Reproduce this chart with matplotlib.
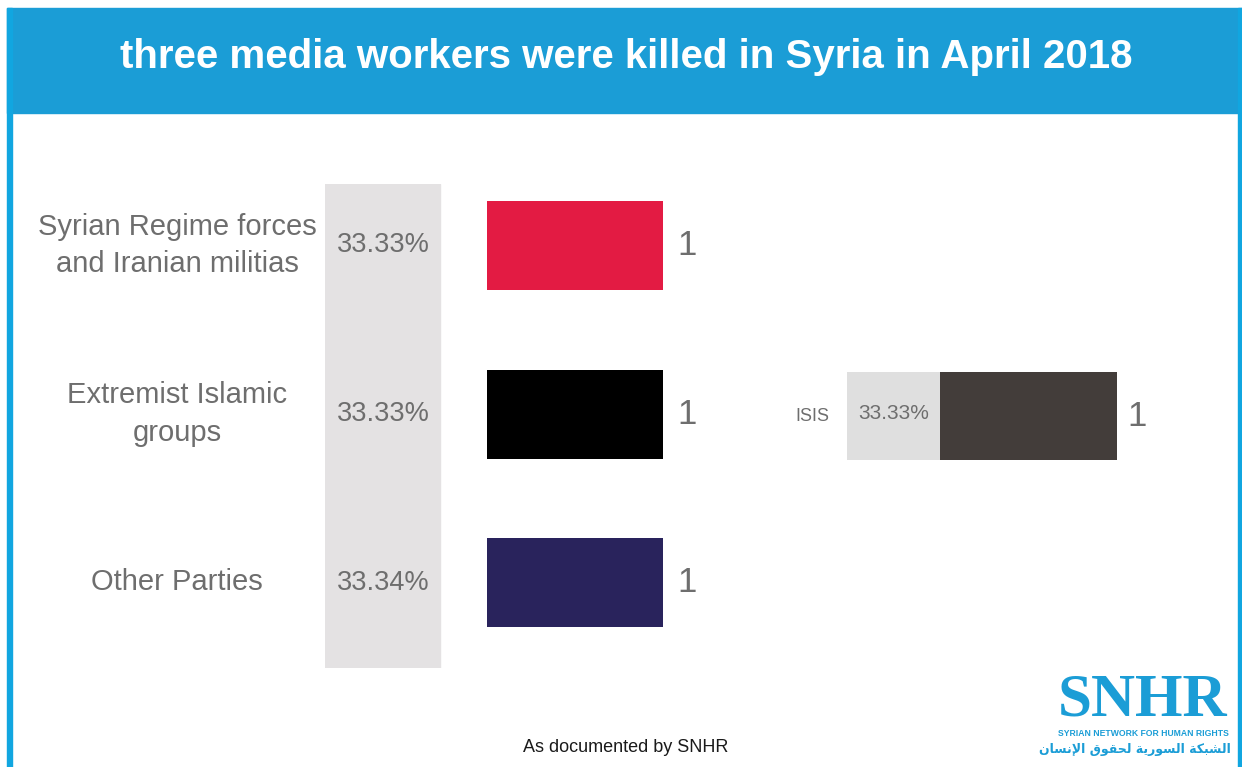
import matplotlib
matplotlib.use('Agg')
import matplotlib.pyplot as plt
from matplotlib.patches import Rectangle

W, H = 1242, 767

# data
categories = ['Syrian Regime forces\nand Iranian militias', 'Extremist Islamic\ngroups', 'Other Parties']
counts = [1, 1, 1]
shares = ['33.33%', '33.33%', '33.34%']
bar_colors = ['#e31b43', '#000000', '#29235c']

sub_categories = ['ISIS']
sub_counts = [1]
sub_shares = ['33.33%']

title = 'three media workers were killed in Syria in April 2018'
footer = 'As documented by SNHR'

GREY_TXT = '#6e6e6e'
BLUE = '#1b9dd6'

plt.rcParams['font.family'] = ['Liberation Sans', 'DejaVu Sans']

fig = plt.figure(figsize=(W / 100, H / 100), dpi=100)
fig.patch.set_facecolor('white')


def fx(px):
    return px / W


def fy(py):
    return 1 - py / H


def px_axes(x0, y0, x1, y1):
    # axes placed by pixel box (top-left origin)
    return fig.add_axes([fx(x0), fy(y1), (x1 - x0) / W, (y1 - y0) / H])


# frame and header
fig.patches.append(Rectangle((fx(7), fy(113)), fx(1242) - fx(7), fy(8) - fy(113),
                             transform=fig.transFigure, color=BLUE, zorder=0))
fig.patches.append(Rectangle((fx(7), 0), fx(5), fy(8), transform=fig.transFigure,
                             color='#11a6e0', zorder=0))
fig.patches.append(Rectangle((fx(1238), 0), fx(4), fy(8), transform=fig.transFigure,
                             color='#11a6e0', zorder=0))
fig.text(fx(626), fy(57), title, color='white', fontsize=29, fontweight='bold',
         ha='center', va='center')

# main chart
px_per_unit = 176.0
ax = px_axes(325, 184, 700, 668)
ax.set_xlim((325 - 487) / px_per_unit, (700 - 487) / px_per_unit)
ypx = 168.5
ax.set_ylim(2 + (668 - 582.5) / ypx, -(245.5 - 184) / ypx)
ax.axvspan((325 - 487) / px_per_unit, (440 - 487) / px_per_unit, color='#e4e2e3', zorder=0)
ypos = list(range(len(categories)))
ax.barh(ypos, counts, height=89 / ypx, color=bar_colors, zorder=2)
for y, cat, sh, c in zip(ypos, categories, shares, counts):
    ax.text((177 - 487) / px_per_unit, y, cat, ha='center', va='center', fontsize=21,
            color=GREY_TXT, linespacing=1.45, clip_on=False)
    ax.text((383 - 487) / px_per_unit, y, sh, ha='center', va='center', fontsize=19.5,
            color=GREY_TXT)
    ax.text(c + 14 / px_per_unit, y, str(c), ha='left', va='center', fontsize=25,
            color=GREY_TXT, clip_on=False)
ax.axis('off')

# ISIS breakdown
ax2 = px_axes(847, 372, 1160, 460)
ax2.set_xlim((847 - 940) / 177, (1160 - 940) / 177)
ax2.set_ylim(0.5, -0.5)
ax2.axvspan((847 - 940) / 177, 0, color='#dfdfdf', zorder=0)
ax2.barh(range(len(sub_categories)), sub_counts, height=1.0, color='#433d3a', zorder=2)
for y, cat, sh, c in zip(range(len(sub_categories)), sub_categories, sub_shares, sub_counts):
    ax2.text((812 - 940) / 177, y, cat, ha='center', va='center', fontsize=13,
             color=GREY_TXT, clip_on=False)
    ax2.text((894 - 940) / 177, y - 0.03, sh, ha='center', va='center', fontsize=15,
             color=GREY_TXT)
    ax2.text(c + 10 / 177, y, str(c), ha='left', va='center', fontsize=25,
             color=GREY_TXT, clip_on=False)
ax2.axis('off')

# footer and logo
fig.text(fx(626), fy(748), footer, ha='center', va='center', fontsize=13, color='#1a1a1a')
fig.text(fx(1143), fy(715), 'SNHR', ha='center', va='baseline', fontsize=44,
         fontweight='bold', family=['Liberation Serif', 'DejaVu Serif'], color=BLUE)
fig.text(fx(1143), fy(733), 'SYRIAN NETWORK FOR HUMAN RIGHTS', ha='center', va='center',
         fontsize=6.2, fontweight='bold', color=BLUE)
arabic = '\ufee5\ufe8e\ufeb4\ufee7\ufef9\ufe8d \ufed5\ufeee\ufed8\ufea4\ufedf ' \
         '\ufe94\ufef3\ufead\ufeee\ufeb4\ufedf\ufe8d \ufe94\ufedc\ufe92\ufeb8\ufedf\ufe8d'
fig.text(fx(1135), fy(749), arabic, ha='center', va='center', fontsize=9,
         fontweight='bold', family=['DejaVu Sans'], color=BLUE)

fig.savefig('out.png', dpi=100, facecolor='white')
